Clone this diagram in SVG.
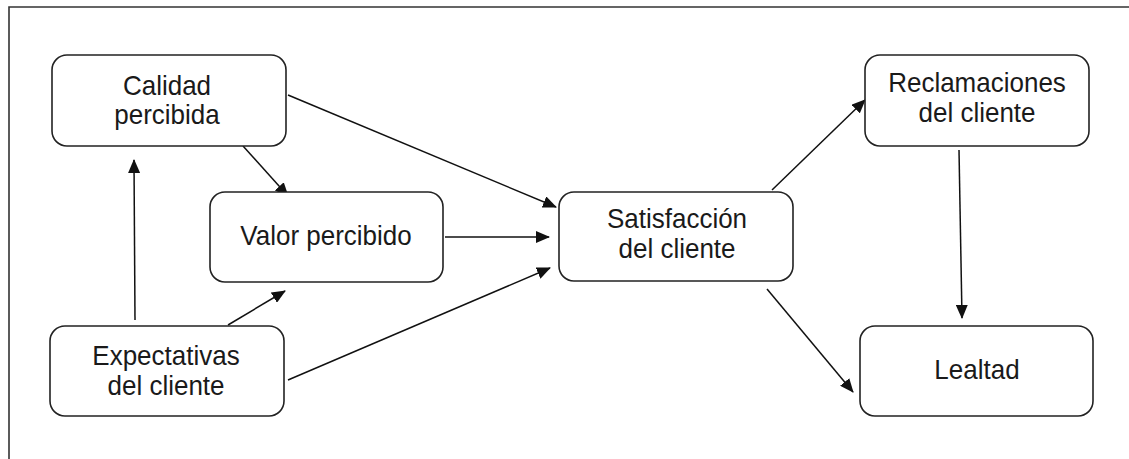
<svg xmlns="http://www.w3.org/2000/svg" width="1129" height="459" viewBox="0 0 1129 459">
<defs>
<marker id="ah" markerUnits="userSpaceOnUse" markerWidth="14" markerHeight="12" refX="13" refY="6" orient="auto">
<path d="M0,0 L14,6 L0,12 z" fill="#111"/>
</marker>
<style>
.box{fill:#fff;stroke:#222;stroke-width:1.6}
.lbl{font-family:"Liberation Sans",Arial,sans-serif;font-size:26px;fill:#1a1a1a;text-anchor:middle}
.edge{stroke:#111;stroke-width:1.5;fill:none;marker-end:url(#ah)}
</style>
</defs>
<rect x="0" y="0" width="1129" height="459" fill="#fff"/>
<path d="M9,459 V7 H1129" fill="none" stroke="#333" stroke-width="1.6"/>
<g id="connectors">
<line class="edge" x1="135" y1="320" x2="134" y2="160"/>
<line class="edge" x1="243" y1="146" x2="288" y2="196"/>
<line class="edge" x1="228" y1="325" x2="285" y2="291"/>
<line class="edge" x1="288" y1="95" x2="556" y2="207"/>
<line class="edge" x1="445" y1="237" x2="549" y2="237"/>
<line class="edge" x1="288" y1="380" x2="550" y2="268"/>
<line class="edge" x1="772" y1="190" x2="865" y2="100"/>
<line class="edge" x1="767" y1="289" x2="853" y2="392"/>
<line class="edge" x1="959" y1="150" x2="962" y2="318"/>
</g>
<g id="calidad">
<rect class="box" x="52" y="55" width="234" height="91" rx="15"/>
<text class="lbl" transform="translate(167,95) scale(1,1.08)">Calidad</text>
<text class="lbl" transform="translate(167,124) scale(1,1.08)">percibida</text>
</g>
<g id="valor">
<rect class="box" x="210" y="192" width="233" height="90" rx="15"/>
<text class="lbl" transform="translate(326,245) scale(1,1.08)">Valor percibido</text>
</g>
<g id="expectativas">
<rect class="box" x="50" y="326" width="234" height="90" rx="15"/>
<text class="lbl" transform="translate(166,365) scale(1,1.08)">Expectativas</text>
<text class="lbl" transform="translate(166,395) scale(1,1.08)">del cliente</text>
</g>
<g id="satisfaccion">
<rect class="box" x="559" y="192" width="234" height="89" rx="15"/>
<text class="lbl" transform="translate(677,228) scale(1,1.08)">Satisfacción</text>
<text class="lbl" transform="translate(677,258) scale(1,1.08)">del cliente</text>
</g>
<g id="reclamaciones">
<rect class="box" x="865" y="55" width="224" height="91" rx="15"/>
<text class="lbl" transform="translate(977,92) scale(1,1.08)">Reclamaciones</text>
<text class="lbl" transform="translate(977,122) scale(1,1.08)">del cliente</text>
</g>
<g id="lealtad">
<rect class="box" x="860" y="326" width="233" height="90" rx="15"/>
<text class="lbl" transform="translate(977,379) scale(1,1.08)">Lealtad</text>
</g>
</svg>
